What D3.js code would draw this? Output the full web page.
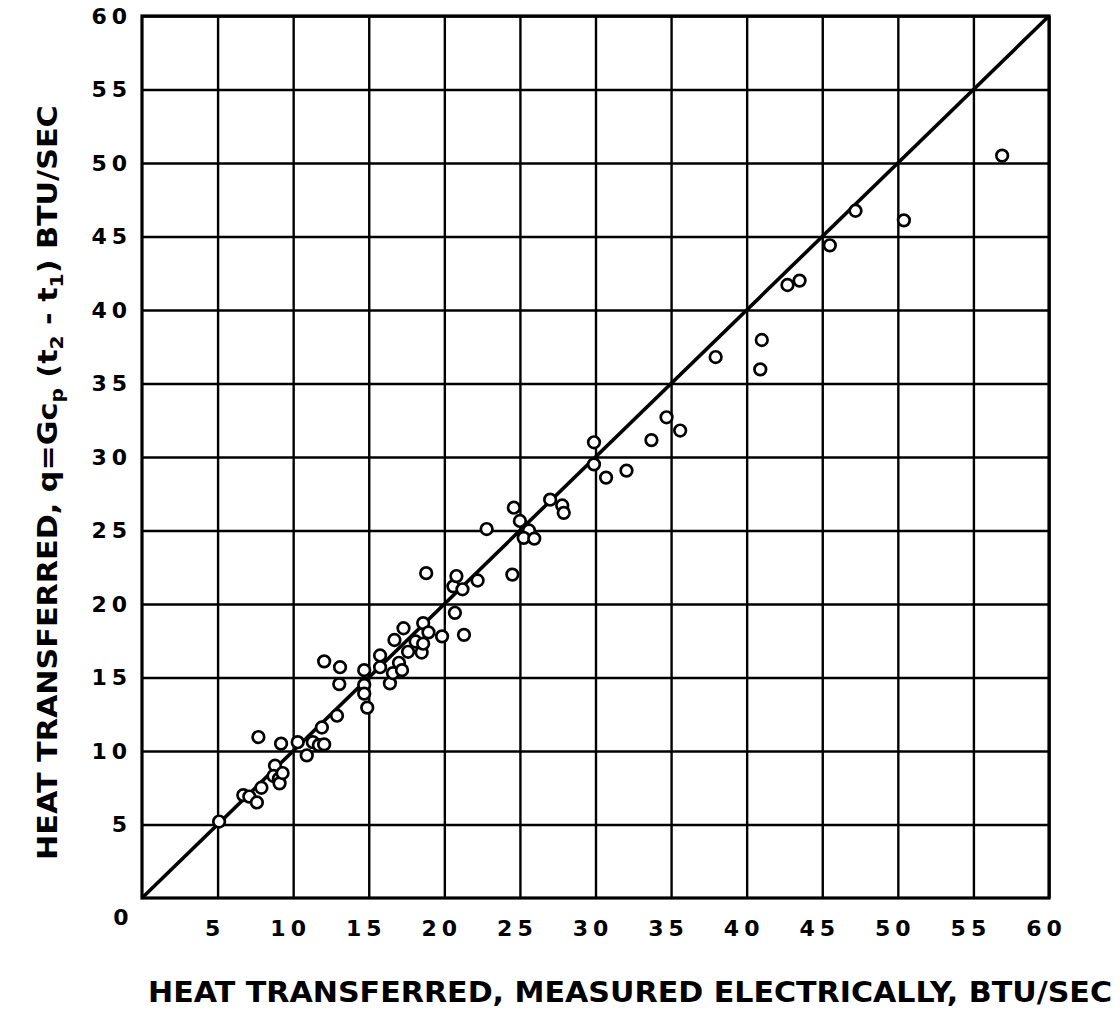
<!DOCTYPE html>
<html>
<head>
<meta charset="utf-8">
<script src="https://cdn.jsdelivr.net/npm/d3@7"></script>
<style>
  html, body { margin: 0; padding: 0; background: #fff; }
  svg { display: block; }
  text { font-family: "DejaVu Sans", sans-serif; font-weight: bold; fill: #000; }
</style>
</head>
<body>
<svg id="chart" width="1120" height="1015"></svg>
<script>
// heat measured electrically (x) vs heat from q = G cp (t2 - t1) (y), BTU/sec
var measuredX = [5.1, 6.7, 7.1, 7.6, 7.9, 7.7, 8.8, 8.7, 9.05, 9.1, 9.3, 9.2,
    10.3, 10.9, 11.3, 11.7, 11.9, 12.05, 12.9, 12.05, 13.1, 13.05, 14.7, 14.7, 14.7,
    14.9, 15.75, 15.75, 16.4, 16.6, 16.7, 17.0, 17.2, 17.3, 17.6, 18.1, 18.6, 18.5,
    18.95, 18.6, 18.8, 19.85, 20.7, 20.6, 20.8, 21.2, 21.3, 22.2, 22.8, 24.5, 24.6,
    25.0, 25.6, 25.25, 25.95, 27.0, 27.8, 27.9, 29.9, 29.9, 30.7, 32.05, 33.7, 34.7,
    35.6, 37.95, 40.9, 41.0, 42.7, 43.5, 45.5, 47.2, 50.4, 56.9];
var computedY = [5.2, 7.0, 6.9, 6.5, 7.5, 10.95, 9.0, 8.3, 8.1, 7.8, 8.5, 10.5,
    10.6, 9.7, 10.6, 10.4, 11.6, 10.45, 12.4, 16.1, 15.7, 14.55, 15.5, 14.5, 13.9,
    12.95, 16.5, 15.7, 14.6, 15.3, 17.55, 16.0, 15.5, 18.35, 16.75, 17.45, 18.7, 16.7,
    18.07, 17.3, 22.1, 17.8, 19.4, 21.2, 21.9, 21.0, 17.9, 21.6, 25.1, 22.0, 26.55,
    25.65, 25.0, 24.5, 24.45, 27.1, 26.7, 26.2, 31.0, 29.5, 28.6, 29.07, 31.15, 32.7,
    31.8, 36.8, 35.96, 37.96, 41.7, 42.0, 44.4, 46.75, 46.1, 50.5];

var tickValues = [5, 10, 15, 20, 25, 30, 35, 40, 45, 50, 55, 60];
var xTickLabels = ["5", "10", "15", "20", "25", "30", "35", "40", "45", "50", "55", "60"];
var yTickLabels = ["5", "10", "15", "20", "25", "30", "35", "40", "45", "50", "55", "60"];
var originLabel = "0";
var axisMax = 60;

(function () {
    var svg = d3.select("#chart");
    var plotLeft = 142, plotTop = 16, plotRight = 1049, plotBottom = 898;

    var x = d3.scaleLinear().domain([0, axisMax]).range([plotLeft, plotRight]);
    var y = d3.scaleLinear().domain([0, axisMax]).range([plotBottom, plotTop]);

    // vertical grid + x tick labels
    var xAxis = svg.append("g")
        .attr("transform", "translate(0," + plotBottom + ")")
        .call(d3.axisBottom(x)
            .tickValues(tickValues)
            .tickSize(-(plotBottom - plotTop))
            .tickPadding(22)
            .tickFormat(function (d, i) { return xTickLabels[i]; }));

    // horizontal grid + y tick labels
    var yAxis = svg.append("g")
        .attr("transform", "translate(" + plotLeft + ",0)")
        .call(d3.axisLeft(y)
            .tickValues(tickValues)
            .tickSize(-(plotRight - plotLeft))
            .tickPadding(15)
            .tickFormat(function (d, i) { return yTickLabels[i]; }));

    [xAxis, yAxis].forEach(function (g) {
        g.select(".domain").remove();
        g.selectAll(".tick line").attr("stroke", "#000").attr("stroke-width", 2.4);
        g.selectAll(".tick text")
            .style("font-family", "'DejaVu Sans', sans-serif")
            .style("font-weight", "bold")
            .style("font-size", "22px")
            .style("letter-spacing", "5px")
            .attr("fill", "#000");
    });
    xAxis.selectAll(".tick text").attr("dx", "-3px");
    yAxis.selectAll(".tick text").attr("dx", "5px");

    // corner "0"
    svg.append("text")
        .attr("x", 121)
        .attr("y", 917)
        .attr("dy", "0.35em")
        .attr("text-anchor", "middle")
        .style("font-size", "22px")
        .text(originLabel);

    // frame
    svg.append("rect")
        .attr("x", plotLeft)
        .attr("y", plotTop)
        .attr("width", plotRight - plotLeft)
        .attr("height", plotBottom - plotTop)
        .attr("fill", "none")
        .attr("stroke", "#000")
        .attr("stroke-width", 3.2);

    // line of perfect agreement
    svg.append("line")
        .attr("x1", x(0)).attr("y1", y(0))
        .attr("x2", x(axisMax)).attr("y2", y(axisMax))
        .attr("stroke", "#000")
        .attr("stroke-width", 3.6);

    // data points
    svg.append("g")
        .selectAll("circle")
        .data(measuredX)
        .join("circle")
        .attr("cx", function (d) { return x(d); })
        .attr("cy", function (d, i) { return y(computedY[i]); })
        .attr("r", 5.8)
        .attr("fill", "#fff")
        .attr("stroke", "#000")
        .attr("stroke-width", 2.7);

    // x title
    svg.append("text")
        .attr("x", 148)
        .attr("y", 1002)
        .attr("textLength", 964)
        .attr("lengthAdjust", "spacingAndGlyphs")
        .style("font-size", "29px")
        .text("HEAT TRANSFERRED, MEASURED ELECTRICALLY, BTU/SEC");

    // y title with subscripts
    var yTitle = svg.append("text")
        .attr("transform", "translate(57,860) rotate(-90)")
        .style("font-size", "27px");
    yTitle.append("tspan").text("HEAT  TRANSFERRED,  q=Gc");
    yTitle.append("tspan").attr("baseline-shift", "-30%").style("font-size", "18px").text("p");
    yTitle.append("tspan").text(" (t");
    yTitle.append("tspan").attr("baseline-shift", "-30%").style("font-size", "18px").text("2");
    yTitle.append("tspan").text(" - t");
    yTitle.append("tspan").attr("baseline-shift", "-30%").style("font-size", "18px").text("1");
    yTitle.append("tspan").text(") BTU/SEC");

    // stretch y title to its length in the reference
    var len = yTitle.node().getComputedTextLength();
    var target = 755;
    if (len > 0) {
        yTitle.attr("transform", "translate(57,860) rotate(-90) scale(" + (target / len) + ",1)");
    }
})();
</script>
</body>
</html>
